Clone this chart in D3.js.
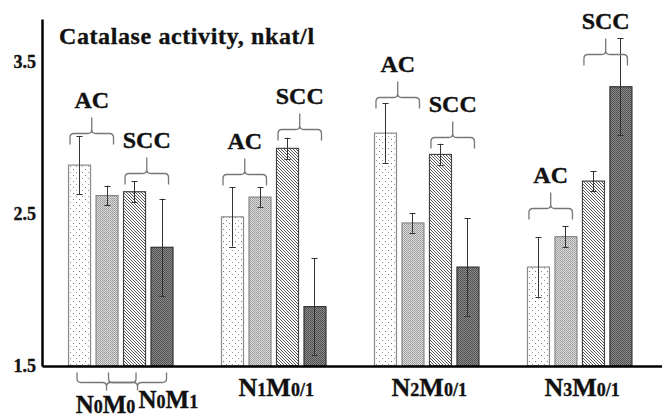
<!DOCTYPE html>
<html>
<head>
<meta charset="utf-8">
<script src="https://cdn.jsdelivr.net/npm/d3@7"></script>
<style>
  body { margin: 0; background: #fff; }
  svg text { font-family: "Liberation Serif", "Times New Roman", serif; font-weight: bold; fill: #111; stroke: #111; stroke-width: 0.35px; }
</style>
</head>
<body>
<div id="plot"></div>
<script>
// groups on the x axis
var groups = ["N0M0/1", "N1M0/1", "N2M0/1", "N3M0/1"];
var groupLabels = ["", "N1M0/1", "N2M0/1", "N3M0/1"];
// four bars per group: AC / SCC, each with M0 and M1
var series = ["acM0", "acM1", "sccM0", "sccM1"];

// catalase activity, nkat/l (mean and +/- error)
var acM0     = [2.82, 2.48, 3.03, 2.15];
var acM1     = [2.62, 2.61, 2.44, 2.35];
var sccM0    = [2.645, 2.93, 2.89, 2.715];
var sccM1    = [2.28, 1.89, 2.15, 3.335];
var acM0Err  = [0.19, 0.195, 0.195, 0.195];
var acM1Err  = [0.065, 0.065, 0.065, 0.07];
var sccM0Err = [0.07, 0.07, 0.07, 0.065];
var sccM1Err = [0.32, 0.32, 0.32, 0.32];

var yTicks = [1.5, 2.5, 3.5];

// AC / SCC brace annotations: level of the brace line (nkat/l)
var acBraceLevel  = [3.034, 2.759, 3.270, 2.536];
var sccBraceLevel = [2.766, 3.054, 3.002, 3.552];

// the two labels under the first group
var firstGroupLabels = ["N0M0", "N0M1"];

var width = 662, height = 418;

var svg = d3.select("#plot").append("svg")
    .attr("width", width)
    .attr("height", height);

// fill patterns, like the old b/w print
var defs = svg.append("defs");

var p1 = defs.append("pattern").attr("id", "dots")
    .attr("patternUnits", "userSpaceOnUse").attr("width", 6).attr("height", 6);
p1.append("rect").attr("width", 6).attr("height", 6).attr("fill", "#fff");
p1.append("rect").attr("x", 1).attr("y", 1).attr("width", 1).attr("height", 1).attr("fill", "#777");
p1.append("rect").attr("x", 4).attr("y", 4).attr("width", 1).attr("height", 1).attr("fill", "#999");

var p2 = defs.append("pattern").attr("id", "grid")
    .attr("patternUnits", "userSpaceOnUse").attr("width", 2).attr("height", 2);
p2.append("rect").attr("width", 2).attr("height", 2).attr("fill", "#dadada");
p2.append("rect").attr("width", 1).attr("height", 1).attr("fill", "#999");
p2.append("rect").attr("x", 1).attr("y", 1).attr("width", 1).attr("height", 1).attr("fill", "#a8a8a8");

var p3 = defs.append("pattern").attr("id", "hatch")
    .attr("patternUnits", "userSpaceOnUse").attr("width", 3).attr("height", 3);
p3.append("rect").attr("width", 3).attr("height", 3).attr("fill", "#fff");
p3.append("path").attr("d", "M0,0L3,3M-1,2L1,4M2,-1L4,1")
    .attr("stroke", "#444").attr("stroke-width", 0.9);

var p4 = defs.append("pattern").attr("id", "dark")
    .attr("patternUnits", "userSpaceOnUse").attr("width", 2).attr("height", 2);
p4.append("rect").attr("width", 2).attr("height", 2).attr("fill", "#8a8a8a");
p4.append("rect").attr("width", 1).attr("height", 1).attr("fill", "#4c4c4c");
p4.append("rect").attr("x", 1).attr("y", 1).attr("width", 1).attr("height", 1).attr("fill", "#555");

var fills   = {acM0: "url(#dots)", acM1: "url(#grid)", sccM0: "url(#hatch)", sccM1: "url(#dark)"};
var borders = {acM0: "#8a8a8a", acM1: "#888", sccM0: "#444", sccM1: "#333"};

var values = {acM0: acM0, acM1: acM1, sccM0: sccM0, sccM1: sccM1};
var errors = {acM0: acM0Err, acM1: acM1Err, sccM0: sccM0Err, sccM1: sccM1Err};

// scales
var x = d3.scaleBand()
    .domain(groups)
    .range([42, width])
    .paddingInner(0.317)
    .paddingOuter(0.185)
    .align(0.46);

var xInner = d3.scaleBand()
    .domain(series)
    .range([0, x.bandwidth()])
    .paddingInner(0.2)
    .paddingOuter(0);

var y = d3.scaleLinear()
    .domain([1.5, 3.78])
    .range([366, 19]);

// bars
var rows = [];
groups.forEach(function (g, i) {
    series.forEach(function (s) {
        rows.push({group: g, gi: i, s: s, v: values[s][i], e: errors[s][i]});
    });
});

var bars = svg.append("g").selectAll("g").data(rows).enter().append("g");

bars.append("rect")
    .attr("x", function (d) { return x(d.group) + xInner(d.s) + 0.5; })
    .attr("y", function (d) { return y(d.v); })
    .attr("width", xInner.bandwidth())
    .attr("height", function (d) { return y(1.5) - y(d.v); })
    .attr("fill", function (d) { return fills[d.s]; })
    .attr("stroke", function (d) { return borders[d.s]; })
    .attr("stroke-width", 1.2);

// error bars
function cx(d) { return Math.round(x(d.group) + xInner(d.s) + xInner.bandwidth() / 2) + 0.5; }
bars.append("line")
    .attr("x1", cx).attr("x2", cx)
    .attr("y1", function (d) { return y(d.v + d.e); })
    .attr("y2", function (d) { return y(d.v - d.e); })
    .attr("stroke", "#333").attr("stroke-width", 1);
[1, -1].forEach(function (sign) {
    bars.append("line")
        .attr("x1", function (d) { return cx(d) - 3; })
        .attr("x2", function (d) { return cx(d) + 3; })
        .attr("y1", function (d) { return Math.round(y(d.v + sign * d.e)) + 0.5; })
        .attr("y2", function (d) { return Math.round(y(d.v + sign * d.e)) + 0.5; })
        .attr("stroke", "#333").attr("stroke-width", 1);
});

// axes
var yAxis = d3.axisLeft(y)
    .tickValues(yTicks)
    .tickFormat(d3.format(".1f"))
    .tickSize(0)
    .tickPadding(6);

var gy = svg.append("g")
    .attr("transform", "translate(42,0)")
    .call(yAxis);
gy.select(".domain").attr("stroke", "#000").attr("stroke-width", 2.5);
gy.selectAll("text")
    .attr("font-family", "Liberation Serif")
    .attr("font-weight", "bold")
    .attr("font-size", 18)
    .attr("fill", "#111");

var xAxis = d3.axisBottom(x).tickSize(0).tickSizeOuter(0).tickFormat("");
var gx = svg.append("g")
    .attr("transform", "translate(0," + y(1.5) + ")")
    .call(xAxis);
gx.select(".domain").attr("stroke", "#000").attr("stroke-width", 2.5);

// curly brace path: tip points up (dir=1) or down (dir=-1)
function brace(x0, x1, yl, h, tip, dir) {
    var xm = (x0 + x1) / 2, r = 4;
    return "M" + x0 + "," + (yl + dir * h) +
        "L" + x0 + "," + (yl + dir * r) +
        "Q" + x0 + "," + yl + "," + (x0 + r) + "," + yl +
        "L" + (xm - r) + "," + yl +
        "Q" + xm + "," + yl + "," + xm + "," + (yl - dir * r) +
        "L" + xm + "," + (yl - dir * tip) +
        "M" + xm + "," + (yl - dir * r) +
        "Q" + xm + "," + yl + "," + (xm + r) + "," + yl +
        "L" + (x1 - r) + "," + yl +
        "Q" + x1 + "," + yl + "," + x1 + "," + (yl + dir * r) +
        "L" + x1 + "," + (yl + dir * h);
}

var braceData = [];
groups.forEach(function (g, i) {
    braceData.push({group: g, a: "acM0", b: "acM1", level: acBraceLevel[i], label: "AC"});
    braceData.push({group: g, a: "sccM0", b: "sccM1", level: sccBraceLevel[i], label: "SCC"});
});

var br = svg.append("g").selectAll("g").data(braceData).enter().append("g");
br.append("path")
    .attr("d", function (d) {
        var x0 = x(d.group) + xInner(d.a) + 2;
        var x1 = x(d.group) + xInner(d.b) + xInner.bandwidth() - 4;
        return brace(x0, x1, Math.round(y(d.level)) + 0.5, 11, 16, 1);
    })
    .attr("fill", "none").attr("stroke", "#777").attr("stroke-width", 1.3);
br.append("text")
    .attr("x", function (d) {
        return x(d.group) + (xInner(d.a) + 2 + xInner(d.b) + xInner.bandwidth() - 4) / 2;
    })
    .attr("y", function (d) { return y(d.level) - 25; })
    .attr("text-anchor", "middle")
    .attr("font-size", 24)
    .text(function (d) { return d.label; });

// group labels with small digits
function smallDigits(sel, big, small) {
    var parts = sel.datum().match(/[A-Z]+|[^A-Z]+/g);
    parts.forEach(function (p) {
        sel.append("tspan")
            .attr("font-size", /[A-Z]/.test(p) ? big : small)
            .text(p);
    });
}

svg.append("g").selectAll("text")
    .data(groupLabels.slice(1))
    .enter().append("text")
    .attr("x", function (d, i) { return x(groups[i + 1]) + x.bandwidth() / 2 + 3; })
    .attr("y", 396)
    .attr("text-anchor", "middle")
    .each(function () { smallDigits(d3.select(this), 26, 18); });

// braces under the first group: N0M0 = AC M0 + SCC M0, N0M1 = AC M1 + SCC M1
var g0 = groups[0];
var lowBraces = [
    {label: firstGroupLabels[0], a: "acM0", b: "sccM0", dx0: -2, dx1: 2},
    {label: firstGroupLabels[1], a: "acM1", b: "sccM1", dx0: 2, dx1: 5}
];
var lowY = y(1.5) + 16.5;
lowBraces.forEach(function (d, i) {
    var x0 = x(g0) + xInner(d.a) + xInner.bandwidth() / 2 + d.dx0;
    var x1 = x(g0) + xInner(d.b) + xInner.bandwidth() / 2 + d.dx1;
    svg.append("path")
        .attr("d", brace(x0, x1, lowY, 10, 8, -1))
        .attr("fill", "none").attr("stroke", "#777").attr("stroke-width", 1.3);
    var t = svg.append("text").datum(d.label)
        .attr("x", i === 0 ? (x0 + x1) / 2 - 1 : (x0 + x1) / 2 + 1)
        .attr("y", i === 0 ? 413 : 408)
        .attr("text-anchor", i === 0 ? "middle" : "start");
    smallDigits(t, 25, 18);
});

// title
svg.append("text")
    .attr("x", 59)
    .attr("y", 44)
    .attr("font-size", 24)
    .attr("letter-spacing", 0.6)
    .text("Catalase activity, nkat/l");
</script>
</body>
</html>
